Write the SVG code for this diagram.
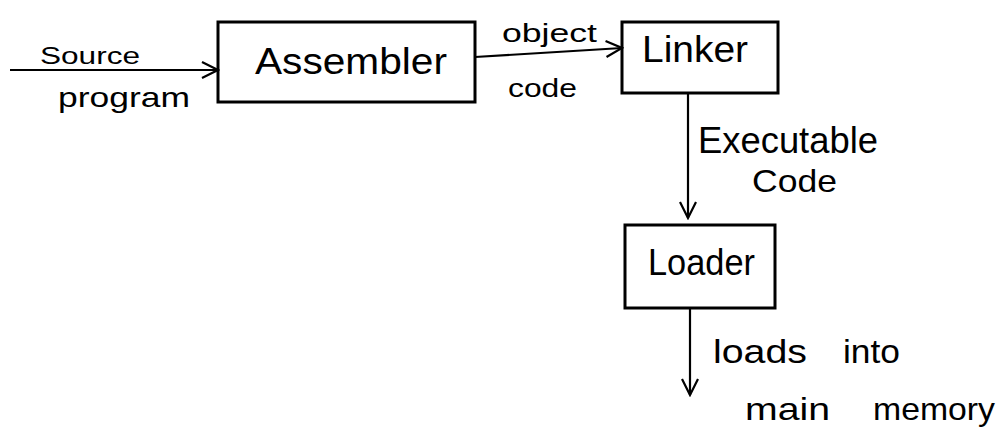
<svg xmlns="http://www.w3.org/2000/svg" width="1002" height="441" viewBox="0 0 1002 441">
  <style>
    .box { fill: none; stroke: #000; stroke-width: 3; stroke-linejoin: miter; }
    .wire { fill: none; stroke: #000; stroke-width: 2.2; }
    .lbl { font-family: "Liberation Sans", "DejaVu Sans", sans-serif; fill: #000; }
  </style>
  <defs>
    <marker id="vee" viewBox="0 0 20 20" refX="18" refY="10" markerWidth="20" markerHeight="20" markerUnits="userSpaceOnUse" orient="auto">
      <path d="M2 2 L18 10 L2 18" fill="none" stroke="#000" stroke-width="2.2"/>
    </marker>
  </defs>
  <rect width="1002" height="441" fill="#fff"/>

  <g id="connectors">
    <path class="wire" d="M10 70 L218 70" marker-end="url(#vee)"/>
    <path class="wire" d="M475 57 L622 48" marker-end="url(#vee)"/>
    <path class="wire" d="M688 93 L688 218" marker-end="url(#vee)"/>
    <path class="wire" d="M690 308 L690 395" marker-end="url(#vee)"/>
  </g>

  <g id="edge-labels">
    <text class="lbl" x="40" y="64" font-size="24" textLength="100" lengthAdjust="spacingAndGlyphs">Source</text>
    <text class="lbl" x="58" y="107" font-size="28" textLength="132" lengthAdjust="spacingAndGlyphs">program</text>
    <text class="lbl" x="502" y="42" font-size="26" textLength="95" lengthAdjust="spacingAndGlyphs">object</text>
    <text class="lbl" x="508" y="97" font-size="25" textLength="69" lengthAdjust="spacingAndGlyphs">code</text>
    <text class="lbl" x="698" y="153" font-size="36" textLength="180" lengthAdjust="spacingAndGlyphs">Executable</text>
    <text class="lbl" x="752" y="192" font-size="32" textLength="85" lengthAdjust="spacingAndGlyphs">Code</text>
    <text class="lbl" x="713" y="363" font-size="34" textLength="94" lengthAdjust="spacingAndGlyphs">loads</text>
    <text class="lbl" x="843" y="363" font-size="34" textLength="57" lengthAdjust="spacingAndGlyphs">into</text>
    <text class="lbl" x="745" y="420" font-size="32" textLength="85" lengthAdjust="spacingAndGlyphs">main</text>
    <text class="lbl" x="873" y="420" font-size="32" textLength="122" lengthAdjust="spacingAndGlyphs">memory</text>
  </g>

  <g id="assembler">
    <rect class="box" x="218" y="22" width="257" height="80"/>
    <text class="lbl" x="255" y="74" font-size="36" textLength="192" lengthAdjust="spacingAndGlyphs">Assembler</text>
  </g>

  <g id="linker">
    <rect class="box" x="622" y="22" width="156" height="71"/>
    <text class="lbl" x="642" y="62" font-size="36" textLength="106" lengthAdjust="spacingAndGlyphs">Linker</text>
  </g>

  <g id="loader">
    <rect class="box" x="625" y="225" width="150" height="83"/>
    <text class="lbl" x="648" y="275" font-size="36" textLength="107" lengthAdjust="spacingAndGlyphs">Loader</text>
  </g>
</svg>
